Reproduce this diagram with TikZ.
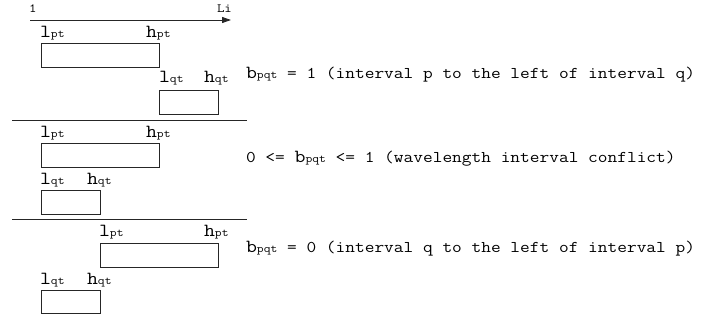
\documentclass[tikz,border=0pt]{standalone}
\usepackage{fontspec}
\setmainfont{Latin Modern Mono}[FakeStretch=1.15]
\usetikzlibrary{arrows.meta}
\newcommand{\bglt}[1]{{\fontsize{18.5}{18.5}\selectfont #1}}
\newcommand{\smls}[1]{{\fontsize{11.5}{11.5}\selectfont #1}}
\newcommand{\axl}[1]{{\fontsize{12.5}{12.5}\selectfont #1}}
\newcommand{\lab}[2]{\bglt{#1}\smls{#2}}
\newcommand{\txt}[1]{{\fontsize{16.4}{16.4}\selectfont #1}}
\begin{document}
\begin{tikzpicture}[x=1pt,y=-1pt,
  box/.style={draw=black!85, line width=0.9pt, rectangle, inner sep=0pt},
  lbl/.style={anchor=base west, inner sep=0pt, outer sep=0pt},
  rule/.style={draw=black!85, line width=0.9pt}]
\useasboundingbox (0,0) rectangle (704,320);
% axis
\coordinate (a0) at (30,20);
\coordinate (a1) at (231,20);
\draw[rule,-{Triangle[length=9pt,width=6pt]}] (a0) -- (a1);
\node[lbl] (one) at (29,13) {\axl{1}};
\node[lbl] (li) at (217,13) {\axl{Li}};
% section 1
\node[lbl] (l1p) at (40,37.5) {\lab{l}{pt}};
\node[lbl] (h1p) at (146,37.5) {\lab{h}{pt}};
\draw[box] (41,43) rectangle (159,67) node[pos=.5, inner sep=0pt] (p1) {};
\node[lbl] (l1q) at (159,83) {\lab{l}{qt}};
\node[lbl] (h1q) at (204,83) {\lab{h}{qt}};
\draw[box] (159,90) rectangle (218,114) node[pos=.5, inner sep=0pt] (q1) {};
\node[lbl] (t1) at (246,79) {\lab{b}{pqt}\txt{ = 1 (interval p to the left of interval q)}};
% separator 1
\coordinate (s1a) at (12,120);
\coordinate (s1b) at (247,120);
\draw[rule] (s1a) -- (s1b);
% section 2
\node[lbl] (l2p) at (40,138) {\lab{l}{pt}};
\node[lbl] (h2p) at (146,138) {\lab{h}{pt}};
\draw[box] (41,143) rectangle (159,167) node[pos=.5, inner sep=0pt] (p2) {};
\node[lbl] (l2q) at (40,185) {\lab{l}{qt}};
\node[lbl] (h2q) at (87,185) {\lab{h}{qt}};
\draw[box] (41,190) rectangle (100,214) node[pos=.5, inner sep=0pt] (q2) {};
\node[lbl] (t2) at (246,163) {\txt{0 <= }\lab{b}{pqt}\txt{ <= 1 (wavelength interval conflict)}};
% separator 2
\coordinate (s2a) at (12,219.5);
\coordinate (s2b) at (247,219.5);
\draw[rule] (s2a) -- (s2b);
% section 3
\node[lbl] (l3p) at (99,237) {\lab{l}{pt}};
\node[lbl] (h3p) at (204,237) {\lab{h}{pt}};
\draw[box] (100,243) rectangle (218,267) node[pos=.5, inner sep=0pt] (p3) {};
\node[lbl] (l3q) at (40,285) {\lab{l}{qt}};
\node[lbl] (h3q) at (87,285) {\lab{h}{qt}};
\draw[box] (41,290) rectangle (100,313) node[pos=.5, inner sep=0pt] (q3) {};
\node[lbl] (t3) at (246,253) {\lab{b}{pqt}\txt{ = 0 (interval q to the left of interval p)}};
\end{tikzpicture}
\end{document}
